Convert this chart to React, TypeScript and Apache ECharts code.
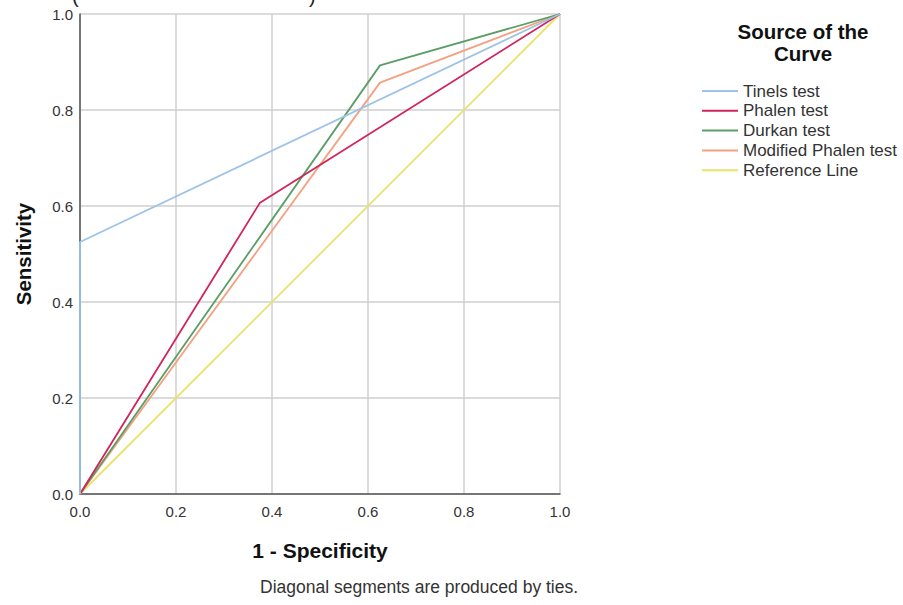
import React, { useEffect, useRef } from "react";
import * as echarts from "echarts";

const seriesNames = ["Tinels test", "Phalen test", "Durkan test", "Modified Phalen test", "Reference Line"];
const seriesColors = ["#9dc3e6", "#d1245b", "#5a9e66", "#f4a080", "#e9e36a"];
const tinelsPoints = [[0, 0], [0, 0.525], [1, 1]];
const phalenPoints = [[0, 0], [0.375, 0.607], [1, 1]];
const durkanPoints = [[0, 0], [0.625, 0.893], [1, 1]];
const modPhalenPoints = [[0, 0], [0.625, 0.857], [1, 1]];
const referencePoints = [[0, 0], [1, 1]];
const allPoints = [tinelsPoints, phalenPoints, durkanPoints, modPhalenPoints, referencePoints];
const tickLabels = ["0.0", "0.2", "0.4", "0.6", "0.8", "1.0"];

const FONT = "'Liberation Sans', Arial, sans-serif";
const LINE_ICON = "path://M0,0 L36,0 L36,2 L0,2 Z";

export default function App() {
  const ref = useRef<HTMLDivElement>(null);
  useEffect(() => {
    const chart = echarts.init(ref.current!, null, { renderer: "svg" });
    const fmt = (v: number) => {
      const i = Math.round(v * 5);
      return tickLabels[i] ?? String(v);
    };
    chart.setOption({
      animation: false,
      backgroundColor: "#ffffff",
      grid: { left: 80, top: 14, width: 480, height: 480, containLabel: false },
      xAxis: {
        type: "value",
        min: 0,
        max: 1,
        interval: 0.2,
        axisLine: { show: true, lineStyle: { color: "#555", width: 1.5 } },
        axisTick: { show: false },
        splitLine: { show: true, lineStyle: { color: "#cfcfcf", width: 1.5 } },
        axisLabel: { formatter: fmt, color: "#333", fontSize: 15, fontFamily: FONT, margin: 10 },
        name: "1 - Specificity",
        nameLocation: "middle",
        nameGap: 46,
        nameTextStyle: { color: "#111", fontSize: 21, fontWeight: "bold", fontFamily: FONT },
      },
      yAxis: {
        type: "value",
        min: 0,
        max: 1,
        interval: 0.2,
        axisLine: { show: true, lineStyle: { color: "#555", width: 1.5 } },
        axisTick: { show: false },
        splitLine: { show: true, lineStyle: { color: "#cfcfcf", width: 1.5 } },
        axisLabel: { formatter: fmt, color: "#333", fontSize: 15, fontFamily: FONT, margin: 7 },
        name: "Sensitivity",
        nameLocation: "middle",
        nameGap: 46,
        nameRotate: 90,
        nameTextStyle: { color: "#111", fontSize: 20.5, fontWeight: "bold", fontFamily: FONT },
      },
      legend: {
        orient: "vertical",
        left: 697,
        top: 77.5,
        itemWidth: 36,
        itemHeight: 14,
        itemGap: 2.8,
        icon: LINE_ICON,
        data: seriesNames,
        textStyle: { color: "#333", fontSize: 17, fontFamily: FONT },
      },
      graphic: [
        {
          type: "text",
          x: 803,
          y: 20,
          style: {
            text: "Source of the\nCurve",
            font: `bold 20.5px ${FONT}`,
            fill: "#111",
            align: "center",
            verticalAlign: "top",
            lineHeight: 22,
          },
        },
        {
          type: "text",
          x: 260,
          y: 587,
          style: {
            text: "Diagonal segments are produced by ties.",
            font: `17.5px ${FONT}`,
            fill: "#333",
            verticalAlign: "middle",
          },
        },
        {
          type: "text",
          x: 72,
          y: -14,
          style: { text: "(", font: `20px ${FONT}`, fill: "#222", verticalAlign: "top" },
        },
        {
          type: "text",
          x: 309,
          y: -14,
          style: { text: ")", font: `20px ${FONT}`, fill: "#222", verticalAlign: "top" },
        },
      ],
      series: allPoints.map((pts, i) => ({
        name: seriesNames[i],
        type: "line",
        data: pts,
        symbol: "none",
        lineStyle: { color: seriesColors[i], width: 1.8 },
        itemStyle: { color: seriesColors[i] },
        z: 10 - i,
      })),
    });
    return () => chart.dispose();
  }, []);
  return (
    <div
      ref={ref}
      style={{ position: "fixed", left: 0, top: 0, width: 903, height: 605, background: "#fff" }}
    />
  );
}
